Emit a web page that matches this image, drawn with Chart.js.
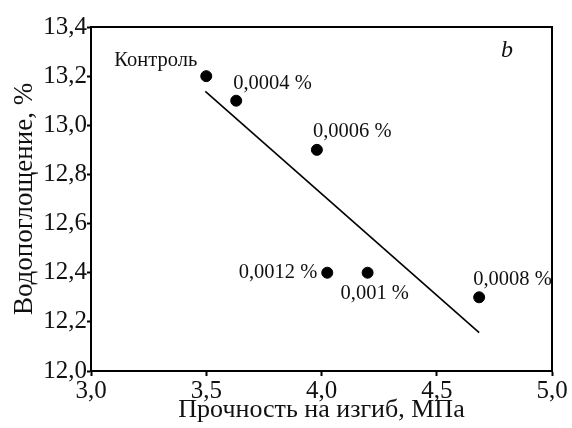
<!DOCTYPE html>
<html>
<head>
<meta charset="utf-8">
<script src="https://cdn.jsdelivr.net/npm/chart.js@4"></script>
<style>
  body { margin: 0; background: #fff; }
  #wrap { width: 572px; height: 428px; }
</style>
</head>
<body>
<div id="wrap"><canvas id="chart" width="572" height="428"></canvas></div>
<script>
// Data
const strength = [3.50, 3.63, 3.98, 4.025, 4.20, 4.684];
const absorption = [13.20, 13.10, 12.90, 12.40, 12.40, 12.30];
const pointLabels = ['Контроль', '0,0004 %', '0,0006 %', '0,0012 %', '0,001 %', '0,0008 %'];
const trendX = [3.496, 4.684];
const trendY = [13.138, 12.156];
const xTicks = [3.0, 3.5, 4.0, 4.5, 5.0];
const yTicks = [12.0, 12.2, 12.4, 12.6, 12.8, 13.0, 13.2, 13.4];

// label placement relative to each point (px)
const labelPos = [
    { dx: -9, dy: -16, align: 'right' },
    { dx: -3, dy: -17, align: 'left' },
    { dx: -4, dy: -18, align: 'left' },
    { dx: -10, dy: 0, align: 'right' },
    { dx: -27, dy: 21, align: 'left' },
    { dx: -6, dy: -18, align: 'left' }
];

const serif = '"Liberation Serif", "DejaVu Serif", serif';
const comma = v => Number(v).toFixed(1).replace('.', ',');

// box around plot area, point labels and the "b" mark
const extras = {
    id: 'extras',
    afterDraw(chart) {
        const { ctx, chartArea: a, scales: { x, y } } = chart;
        ctx.save();
        ctx.strokeStyle = '#000';
        ctx.lineWidth = 2;
        ctx.strokeRect(a.left, a.top, a.right - a.left, a.bottom - a.top);

        ctx.fillStyle = '#111';
        ctx.font = '20.5px ' + serif;
        ctx.textBaseline = 'middle';
        pointLabels.forEach((t, i) => {
            const p = labelPos[i];
            ctx.textAlign = p.align;
            ctx.fillText(t, x.getPixelForValue(strength[i]) + p.dx, y.getPixelForValue(absorption[i]) + p.dy);
        });

        ctx.font = 'italic 24px ' + serif;
        ctx.textAlign = 'center';
        ctx.fillText('b', a.right - 45, a.top + 24);
        ctx.restore();
    }
};

new Chart(document.getElementById('chart'), {
    type: 'scatter',
    data: {
        datasets: [
            {
                data: strength.map((v, i) => ({ x: v, y: absorption[i] })),
                backgroundColor: '#000',
                borderColor: '#000',
                pointRadius: 5.5,
                pointHoverRadius: 5.5
            },
            {
                type: 'line',
                data: trendX.map((v, i) => ({ x: v, y: trendY[i] })),
                borderColor: '#000',
                borderWidth: 1.6,
                pointRadius: 0,
                fill: false
            }
        ]
    },
    options: {
        responsive: false,
        animation: false,
        events: [],
        layout: { padding: { left: 0, top: 27, right: 20, bottom: 0 } },
        plugins: { legend: { display: false }, tooltip: { enabled: false } },
        scales: {
            x: {
                type: 'linear',
                min: 3.0,
                max: 5.0,
                afterBuildTicks: s => { s.ticks = xTicks.map(v => ({ value: v })); },
                afterFit: s => { s.height = 57; },
                grid: { drawOnChartArea: false, color: '#000', tickLength: 5, tickWidth: 2 },
                border: { color: '#000', width: 2 },
                ticks: {
                    color: '#111',
                    padding: 0,
                    maxRotation: 0,
                    font: { family: serif, size: 25 },
                    callback: comma
                },
                title: {
                    display: true,
                    text: 'Прочность на изгиб, МПа',
                    color: '#111',
                    font: { family: serif, size: 26 },
                    padding: { top: 0, bottom: 2 }
                }
            },
            y: {
                type: 'linear',
                min: 12.0,
                max: 13.4,
                afterBuildTicks: s => { s.ticks = yTicks.map(v => ({ value: v })); },
                afterFit: s => { s.width = 91; },
                grid: { drawOnChartArea: false, color: '#000', tickLength: 4, tickWidth: 2 },
                border: { color: '#000', width: 2 },
                ticks: {
                    color: '#111',
                    padding: 0,
                    font: { family: serif, size: 25 },
                    callback: comma
                },
                title: {
                    display: true,
                    text: 'Водопоглощение, %',
                    color: '#111',
                    font: { family: serif, size: 27 },
                    padding: { top: 9, bottom: 0 }
                }
            }
        }
    },
    plugins: [extras]
});
</script>
</body>
</html>
